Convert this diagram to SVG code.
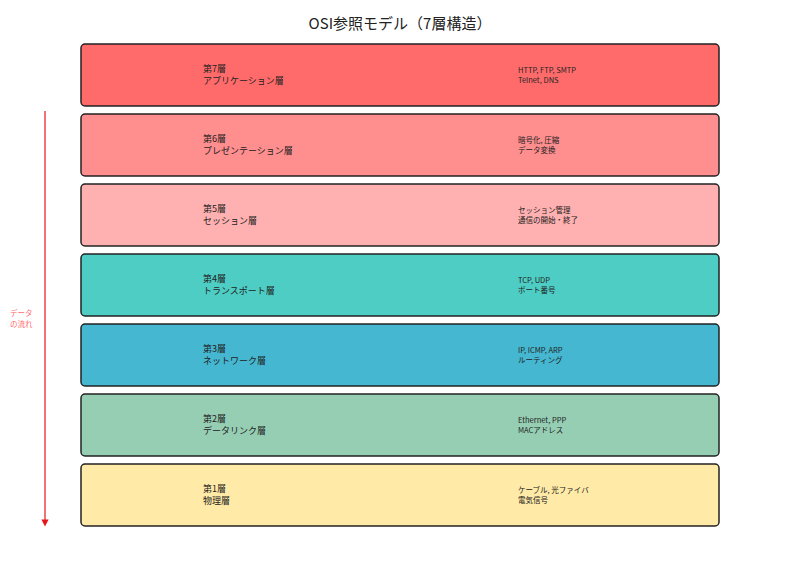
<svg xmlns="http://www.w3.org/2000/svg" width="800" height="570" viewBox="0 0 800 570">
<style>
text{font-family:"Noto Sans CJK JP","Noto Sans",sans-serif;fill:#222}
.l rect{stroke:#222;stroke-width:1.5}
.n{font-size:9px}
.d{font-size:7.5px}
</style>
<defs><marker id="a" markerWidth="6" markerHeight="6" refX="3" refY="3" orient="auto"><path d="M0,0L6,3L0,6z" fill="#e8141c"/></marker></defs>
<text x="400" y="29" text-anchor="middle" font-size="15">OSI参照モデル（7層構造）</text>
<g id="l7" class="l"><rect x="81" y="44" width="638" height="62" rx="4" fill="#ff6b6b"/><text class="n" x="203" y="72">第7層</text><text class="n" x="203" y="84">アプリケーション層</text><text class="d" x="518" y="72.5">HTTP, FTP, SMTP</text><text class="d" x="518" y="83">Telnet, DNS</text></g>
<g id="l6" class="l"><rect x="81" y="114" width="638" height="62" rx="4" fill="#ff8e8e"/><text class="n" x="203" y="142">第6層</text><text class="n" x="203" y="154">プレゼンテーション層</text><text class="d" x="518" y="142.5">暗号化, 圧縮</text><text class="d" x="518" y="153">データ変換</text></g>
<g id="l5" class="l"><rect x="81" y="184" width="638" height="62" rx="4" fill="#ffb0b0"/><text class="n" x="203" y="212">第5層</text><text class="n" x="203" y="224">セッション層</text><text class="d" x="518" y="212.5">セッション管理</text><text class="d" x="518" y="223">通信の開始・終了</text></g>
<g id="l4" class="l"><rect x="81" y="254" width="638" height="62" rx="4" fill="#4ecdc4"/><text class="n" x="203" y="282">第4層</text><text class="n" x="203" y="294">トランスポート層</text><text class="d" x="518" y="282.5">TCP, UDP</text><text class="d" x="518" y="293">ポート番号</text></g>
<g id="l3" class="l"><rect x="81" y="324" width="638" height="62" rx="4" fill="#45b7d1"/><text class="n" x="203" y="352">第3層</text><text class="n" x="203" y="364">ネットワーク層</text><text class="d" x="518" y="352.5">IP, ICMP, ARP</text><text class="d" x="518" y="363">ルーティング</text></g>
<g id="l2" class="l"><rect x="81" y="394" width="638" height="62" rx="4" fill="#96ceb4"/><text class="n" x="203" y="422">第2層</text><text class="n" x="203" y="434">データリンク層</text><text class="d" x="518" y="422.5">Ethernet, PPP</text><text class="d" x="518" y="433">MACアドレス</text></g>
<g id="l1" class="l"><rect x="81" y="464" width="638" height="62" rx="4" fill="#ffeaa7"/><text class="n" x="203" y="492">第1層</text><text class="n" x="203" y="504">物理層</text><text class="d" x="518" y="492.5">ケーブル, 光ファイバ</text><text class="d" x="518" y="503">電気信号</text></g>
<g id="connectors"><line x1="45" y1="111" x2="45" y2="523" stroke="#e8141c" stroke-width="1.2" marker-end="url(#a)"/>
<text x="10" y="316" font-size="7.5" style="fill:#ff6b6b">データ</text><text x="10" y="327" font-size="7.5" style="fill:#ff6b6b">の流れ</text></g>
</svg>
